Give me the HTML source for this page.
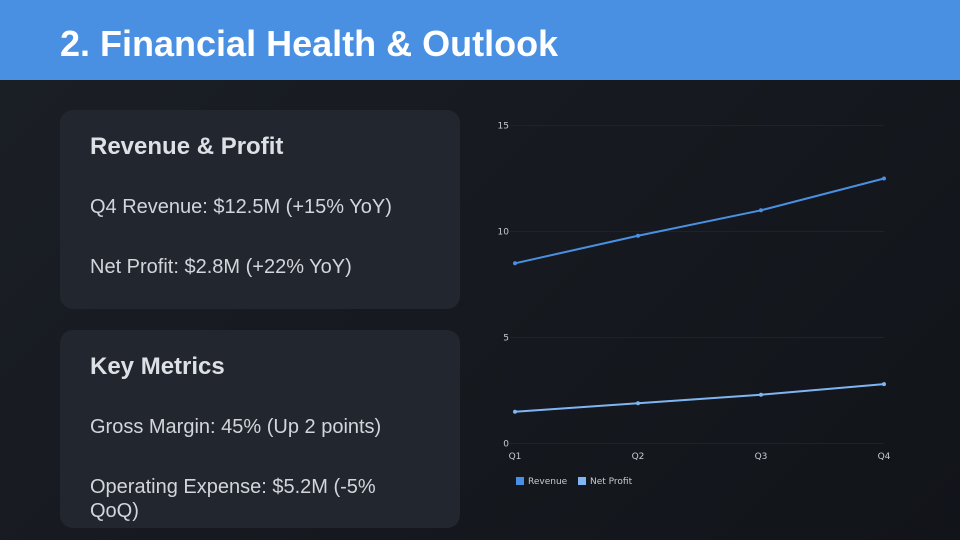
<!DOCTYPE html>
<html><head><meta charset="utf-8"><style>
*{margin:0;padding:0;box-sizing:border-box}
body{width:960px;height:540px;overflow:hidden;background:linear-gradient(135deg,#1b1f26,#111419);font-family:"Liberation Sans",sans-serif;position:relative}
.hdr{position:absolute;left:0;top:0;width:960px;height:80px;background:#4a90e2}
.hdr h1{position:absolute;left:60px;top:24px;font-size:36px;color:#fff;font-weight:bold;line-height:40px}
.card{position:absolute;left:60px;width:400px;background:#22262e;border-radius:13px}
.card h2{position:absolute;left:30px;font-size:24px;font-weight:bold;color:#dde0e5;line-height:28px}
.card p{position:absolute;left:30px;font-size:20px;color:#d2d6dc;line-height:24px;white-space:nowrap}
svg text{font-family:"DejaVu Sans",sans-serif}
</style></head><body>
<div class="hdr"><h1>2. Financial Health &amp; Outlook</h1></div>
<div class="card" style="top:110px;height:199px">
<h2 style="top:23px">Revenue &amp; Profit</h2>
<p style="top:85px">Q4 Revenue: $12.5M (+15% YoY)</p>
<p style="top:145px">Net Profit: $2.8M (+22% YoY)</p>
</div>
<div class="card" style="top:330px;height:198px">
<h2 style="top:23px">Key Metrics</h2>
<p style="top:85px">Gross Margin: 45% (Up 2 points)</p>
<p style="top:145px">Operating Expense: $5.2M (-5%<br>QoQ)</p>
</div>
<svg id="chart" width="960" height="540" style="position:absolute;left:0;top:0"></svg>
<script>
const categories=["Q1","Q2","Q3","Q4"];
const revenue=[8.5,9.8,11.0,12.5];
const netProfit=[1.5,1.9,2.3,2.8];
const yTicks=[0,5,10,15];
const seriesNames=["Revenue","Net Profit"];
const svg=document.getElementById('chart');
const NS='http://www.w3.org/2000/svg';
const x0=515,x1=884,yb=443.5,yt=125.5,ymax=15;
const xs=i=>x0+(x1-x0)*i/(categories.length-1);
const ys=v=>yb-(yb-yt)*v/ymax;
function mk(t,a){const e=document.createElementNS(NS,t);for(const k in a)e.setAttribute(k,a[k]);svg.appendChild(e);return e;}
yTicks.forEach(t=>{
 const g=mk('line',{x1:x0-5,x2:x1,y1:ys(t),y2:ys(t),stroke:'#1e222a','stroke-width':1});
 
 
 const l=mk('text',{x:509,y:ys(t)+3,'text-anchor':'end','font-size':9,fill:'#c8ccd2'});
 l.textContent=t;
 
 
});
categories.forEach((c,i)=>{
 const l=mk('text',{x:xs(i),y:459,'text-anchor':'middle','font-size':9,fill:'#c8ccd2'});
 l.textContent=c;
 
 
});
const colors=['#4a90e2','#7fb5f2'];
[revenue,netProfit].forEach((s,k)=>{
 const p=mk('polyline',{points:s.map((v,i)=>xs(i)+','+ys(v)).join(' '),fill:'none',stroke:colors[k],'stroke-width':2});
 
 
 s.forEach((v,i)=>{
  const c=mk('circle',{cx:xs(i),cy:ys(v),r:2,fill:colors[k]});
  
  
 });
});
const lx=[516,578];
seriesNames.forEach((n,k)=>{
 const r=mk('rect',{x:lx[k],y:477,width:8,height:8,fill:colors[k]});
 
 
 const t=mk('text',{x:lx[k]+12,y:484,'font-size':9,fill:'#c8ccd2'});
 t.textContent=n;
 
 
});
</script>
</body></html>
